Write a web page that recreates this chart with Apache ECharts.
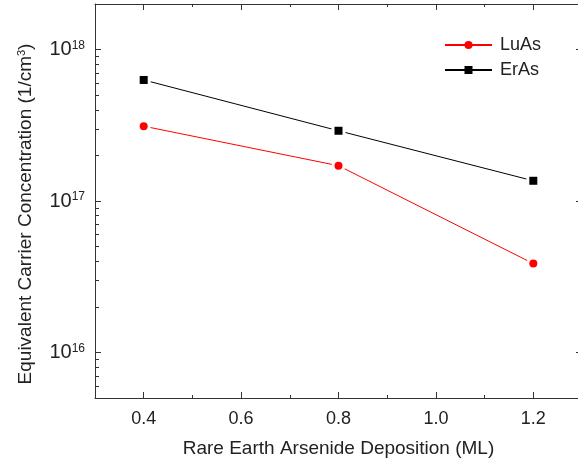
<!DOCTYPE html>
<html>
<head>
<meta charset="utf-8">
<script src="https://cdn.jsdelivr.net/npm/echarts@6/dist/echarts.min.js"></script>
<style>html,body{margin:0;padding:0;background:#fff;}#c{width:578px;height:460px;}</style>
</head>
<body>
<div id="c"></div>
<script>
// ---- data ----
const deposition = [0.4, 0.8, 1.2];
const luAs = [3.12e17, 1.71e17, 3.86e16];
const erAs = [6.3e17, 2.91e17, 1.36e17];
const xTicksMajor = [0.4, 0.6, 0.8, 1.0, 1.2];
const xTicksMinor = [0.5, 0.7, 0.9, 1.1];
const yTicksMajor = [1e16, 1e17, 1e18];
const yTicksMinor = [6e15, 7e15, 8e15, 9e15,
  2e16, 3e16, 4e16, 5e16, 6e16, 7e16, 8e16, 9e16,
  2e17, 3e17, 4e17, 5e17, 6e17, 7e17, 8e17, 9e17];
const xName = 'Rare Earth Arsenide Deposition (ML)';
const yName = 'Equivalent Carrier Concentration (1/cm{sup|3})';

const FONT = 'Liberation Sans, Arial, sans-serif';
const TXT = '#222';
const AX = '#333';
const X_MIN = 0.3, X_MAX = 1.3, Y_MIN = 5e15, Y_MAX = 2e18;

const pts = arr => deposition.map((x, i) => [x, arr[i]]);

function xAx(pos, ticks, len, showLine, showLabel, extra) {
  return Object.assign({
    type: 'value', gridIndex: 0, position: pos, min: X_MIN, max: X_MAX,
    axisLine: { show: showLine, onZero: false, lineStyle: { color: AX, width: 1 } },
    axisTick: { show: true, inside: true, length: len, customValues: ticks, lineStyle: { color: AX, width: 1 } },
    axisLabel: { show: showLabel, customValues: ticks, margin: 12, fontSize: 18, fontFamily: FONT, color: TXT,
      formatter: v => Number(v).toFixed(1) },
    splitLine: { show: false }
  }, extra || {});
}
function yAx(pos, ticks, len, showLine, showLabel, extra) {
  return Object.assign({
    type: 'log', logBase: 10, gridIndex: 0, position: pos, min: Y_MIN, max: Y_MAX,
    axisLine: { show: showLine, onZero: false, lineStyle: { color: AX, width: 1 } },
    axisTick: { show: true, inside: true, length: len, customValues: ticks, lineStyle: { color: AX, width: 1 } },
    axisLabel: { show: showLabel, customValues: ticks, margin: 10,
      formatter: v => '{b|10}{s|' + Math.round(Math.log10(v)) + '}',
      rich: {
        b: { fontSize: 20, fontFamily: FONT, color: TXT },
        s: { fontSize: 12, fontFamily: FONT, color: TXT, verticalAlign: 'top' }
      } },
    splitLine: { show: false }
  }, extra || {});
}

const chart = echarts.init(document.getElementById('c'), null, { renderer: 'canvas' });
chart.setOption({
  backgroundColor: '#fff',
  animation: false,
  grid: { left: 95, top: 4, width: 487, height: 394, containLabel: false, outerBoundsMode: 'none' },
  legend: {
    orient: 'vertical', left: 439, top: 31, itemWidth: 47, itemHeight: 10, itemGap: 7,
    textStyle: { fontSize: 18, fontFamily: FONT, color: TXT, padding: [0, 0, 0, 3] },
    data: ['LuAs', 'ErAs']
  },
  xAxis: [
    xAx('bottom', xTicksMajor, 6, true, true, {
      name: xName, nameLocation: 'middle', nameGap: 41,
      nameTextStyle: { fontSize: 19, fontFamily: FONT, color: TXT } }),
    xAx('bottom', xTicksMinor, 3, false, false),
    xAx('top', xTicksMajor, 6, true, false),
    xAx('top', xTicksMinor, 3, false, false)
  ],
  yAxis: [
    yAx('left', yTicksMajor, 6, true, true, {
      name: yName, nameLocation: 'middle', nameGap: 60,
      nameTextStyle: { fontSize: 19, fontFamily: FONT, color: TXT, padding: [0, 26, 0, 0],
        rich: { sup: { fontSize: 11, fontFamily: FONT, color: TXT, verticalAlign: 'top' } } } }),
    yAx('left', yTicksMinor, 4, false, false),
    yAx('right', yTicksMajor, 6, true, false)
  ],
  series: [
    { name: 'LuAs', type: 'line', data: pts(luAs), symbol: 'circle', showSymbol: false, z: 2,
      color: '#ff0000', lineStyle: { width: 1, color: '#ff0000' }, itemStyle: { color: '#ff0000' } },
    { name: 'ErAs', type: 'line', data: pts(erAs), symbol: 'rect', showSymbol: false, z: 2,
      color: '#000000', lineStyle: { width: 1, color: '#000000' }, itemStyle: { color: '#000000' } },
    { name: '_haloLu', type: 'line', data: pts(luAs), symbol: 'circle', symbolSize: 14, z: 3, silent: true,
      lineStyle: { width: 0, opacity: 0 }, itemStyle: { color: '#fff', borderWidth: 0 } },
    { name: '_haloEr', type: 'line', data: pts(erAs), symbol: 'rect', symbolSize: 14, z: 3, silent: true,
      lineStyle: { width: 0, opacity: 0 }, itemStyle: { color: '#fff', borderWidth: 0 } },
    { name: '_mkLu', type: 'line', data: pts(luAs), symbol: 'circle', symbolSize: 8, z: 4, silent: true,
      lineStyle: { width: 0, opacity: 0 }, itemStyle: { color: '#ff0000', borderWidth: 0 } },
    { name: '_mkEr', type: 'line', data: pts(erAs), symbol: 'rect', symbolSize: 8, z: 4, silent: true,
      lineStyle: { width: 0, opacity: 0 }, itemStyle: { color: '#000000', borderWidth: 0 } }
  ]
});
</script>
</body>
</html>
